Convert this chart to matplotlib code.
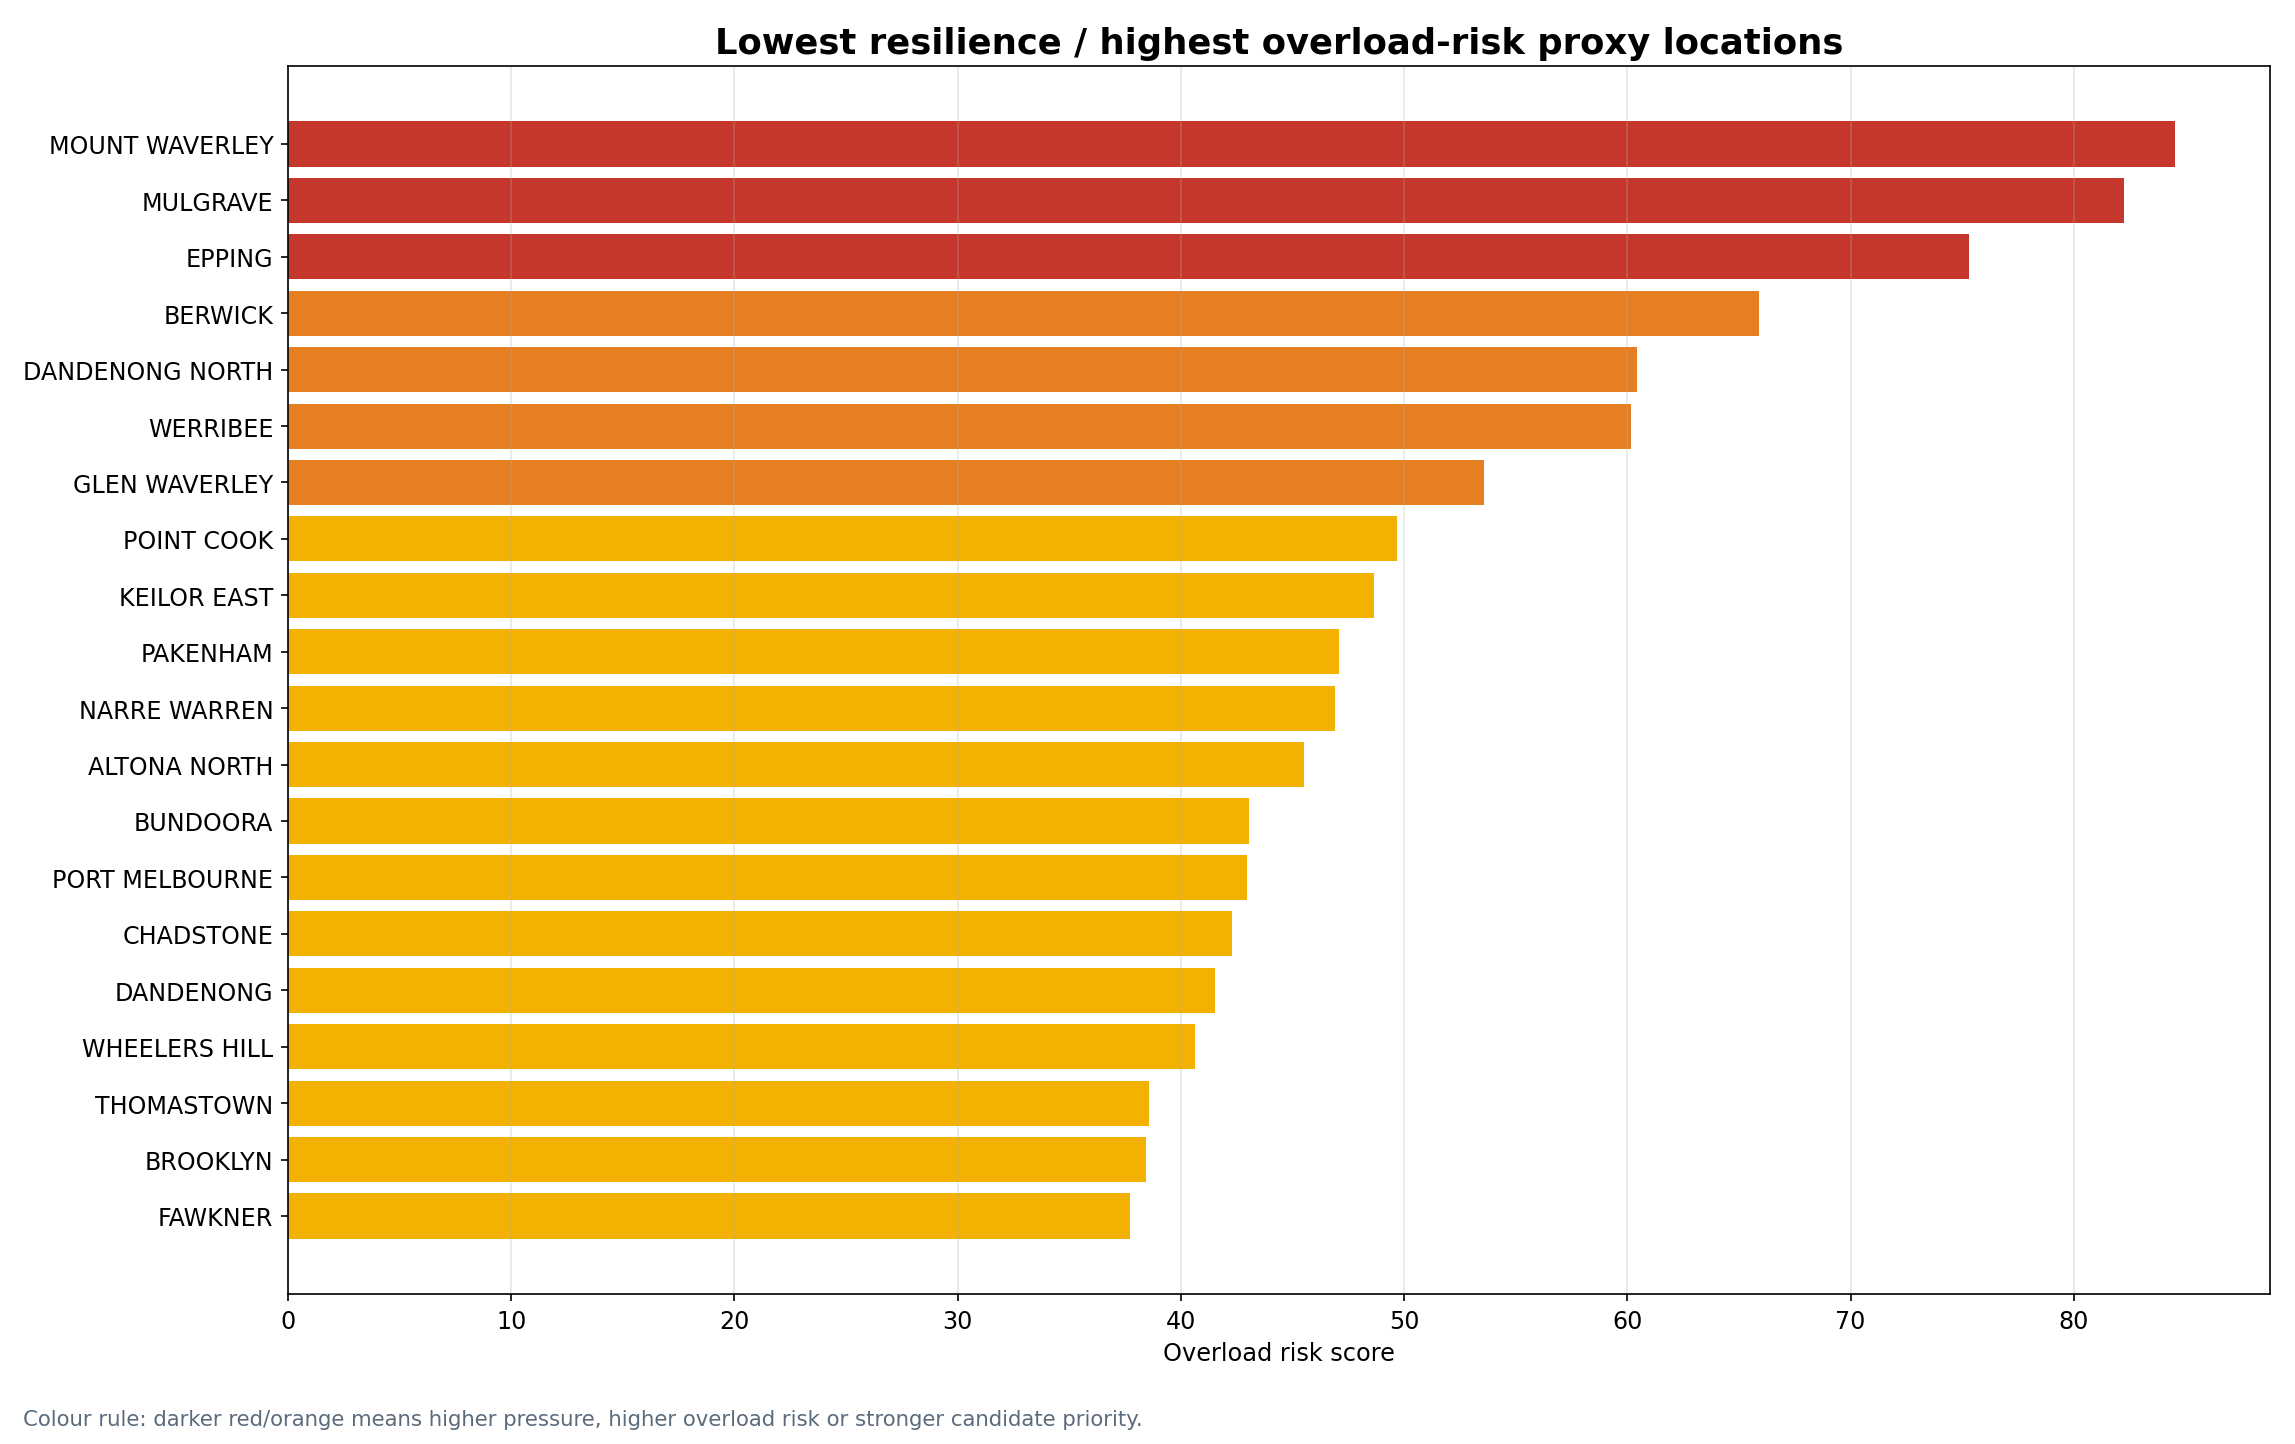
import numpy as np
import matplotlib
matplotlib.use("Agg")
import matplotlib.pyplot as plt

locations = ["MOUNT WAVERLEY", "MULGRAVE", "EPPING", "BERWICK", "DANDENONG NORTH",
             "WERRIBEE", "GLEN WAVERLEY", "POINT COOK", "KEILOR EAST", "PAKENHAM",
             "NARRE WARREN", "ALTONA NORTH", "BUNDOORA", "PORT MELBOURNE", "CHADSTONE",
             "DANDENONG", "WHEELERS HILL", "THOMASTOWN", "BROOKLYN", "FAWKNER"]
scores = [84.55, 82.27, 75.32, 65.88, 60.45, 60.17, 53.59, 49.69, 48.66, 47.09,
          46.91, 45.53, 43.06, 42.97, 42.30, 41.54, 40.64, 38.58, 38.44, 37.73]
tiers = ["high", "high", "high", "mid", "mid", "mid", "mid", "low", "low", "low",
         "low", "low", "low", "low", "low", "low", "low", "low", "low", "low"]

tier_colours = {"high": "#c5362d", "mid": "#e67e22", "low": "#f3b102"}

fig = plt.figure(figsize=(15.3, 9.633), dpi=150)
ax = fig.add_axes([0.1255, 0.1035, 0.8635, 0.8505])

y = np.arange(len(locations))
ax.barh(y, scores, height=0.8, color=[tier_colours[t] for t in tiers])
ax.set_yticks(y)
ax.set_yticklabels(locations)
ax.invert_yaxis()
ax.tick_params(labelsize=11.4)
ax.grid(axis="x", alpha=0.3)
ax.set_xlabel("Overload risk score", fontsize=11.5)
ax.set_title("Lowest resilience / highest overload-risk proxy locations",
             fontsize=17, fontweight="bold")

fig.text(0.01, 0.0173,
         "Colour rule: darker red/orange means higher pressure, higher overload risk or stronger candidate priority.",
         fontsize=10.2, color="#5b6b7c", va="center")

fig.savefig("out.png", dpi=150)
